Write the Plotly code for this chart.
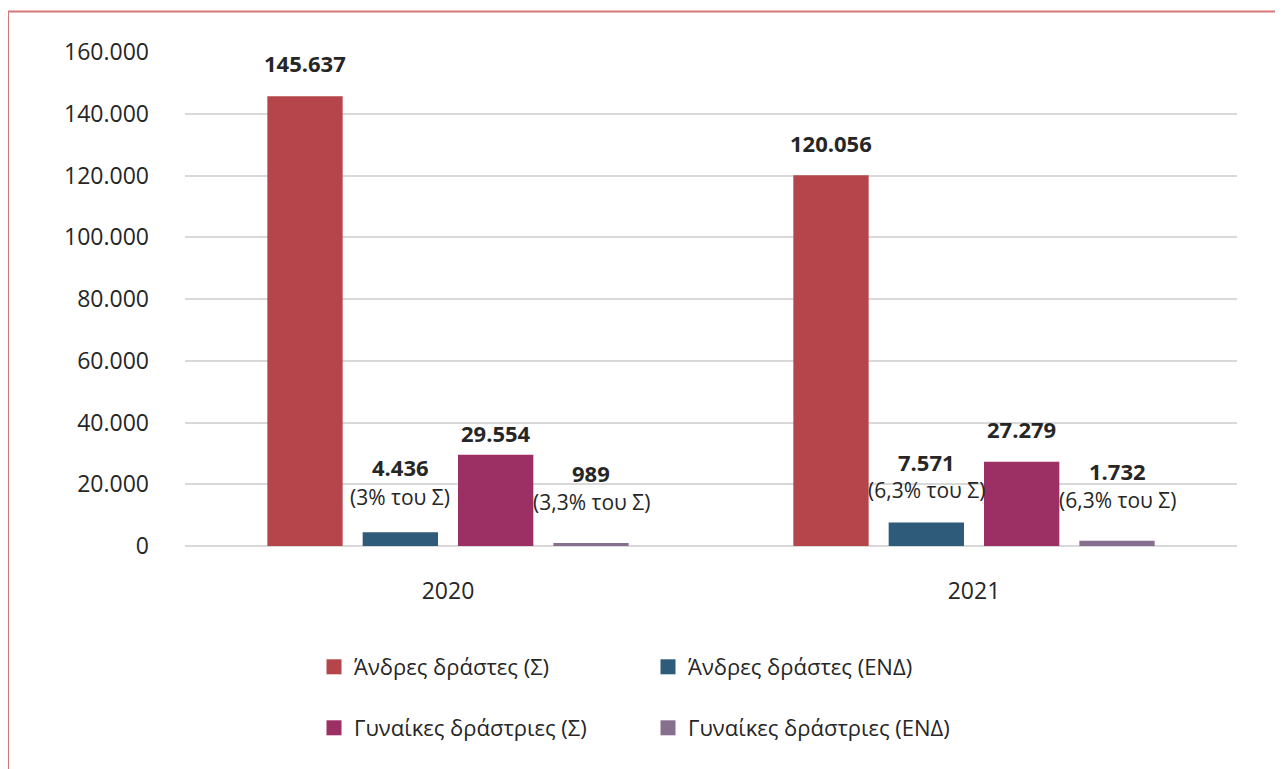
import plotly.graph_objects as go

years = ["2020", "2021"]
series_names = ["Άνδρες δράστες (Σ)", "Άνδρες δράστες (ΕΝΔ)", "Γυναίκες δράστριες (Σ)", "Γυναίκες δράστριες (ΕΝΔ)"]
men_total = [145637, 120056]
men_end = [4436, 7571]
women_total = [29554, 27279]
women_end = [989, 1732]
men_end_pct = ["(3% του Σ)", "(6,3% του Σ)"]
women_end_pct = ["(3,3% του Σ)", "(6,3% του Σ)"]
y_ticks = [0, 20000, 40000, 60000, 80000, 100000, 120000, 140000, 160000]

colors = ["#B5454B", "#2E5B7A", "#9C2F64", "#87708E"]
FONT = "Open Sans"
TXT = "#262626"

all_series = [men_total, men_end, women_total, women_end]
legends = ["legend", "legend", "legend2", "legend2"]

fig = go.Figure()
for name, vals, col in zip(series_names, all_series, colors):
    fig.add_trace(go.Bar(x=years, y=vals, name=name, marker_color=col,
                         marker_line_width=0, showlegend=False, hoverinfo="y"))
# legend entries with larger square swatches
for name, col, lg in zip(series_names, colors, legends):
    fig.add_trace(go.Scatter(x=[None], y=[None], mode="markers", name=name,
                             marker=dict(symbol="square", size=15, color=col),
                             legend=lg, hoverinfo="skip"))

def fmt(v):
    return f"{v:,}".replace(",", ".")

# label layout: offsets of each series in the group (category units) and vertical shifts (px)
offsets = [-0.272, -0.091, 0.091, 0.272]
val_shift = [[33, 32], [65, 61], [22, 33], [70, 70]]
pct_shift = [None, [35, 33], None, [41, 41]]
pct_text = [None, men_end_pct, None, women_end_pct]

for si, vals in enumerate(all_series):
    for ci, v in enumerate(vals):
        fig.add_annotation(x=ci + offsets[si], y=v, xref="x", yref="y",
                           text=f"<b>{fmt(v)}</b>", showarrow=False,
                           yanchor="middle", yshift=val_shift[si][ci],
                           font=dict(family=FONT, size=22, color=TXT))
        if pct_text[si] is not None:
            fig.add_annotation(x=ci + offsets[si], y=v, xref="x", yref="y",
                               text=pct_text[si][ci], showarrow=False,
                               yanchor="middle", yshift=pct_shift[si][ci],
                               font=dict(family=FONT, size=21, color=TXT))

W, H = 1275, 761
L, R, T, B = 177, 46, 44, 223
plot_w = W - L - R
plot_h = H - T - B

# outer border
fig.add_shape(type="rect", xref="paper", yref="paper",
              x0=(0 - L) / plot_w, x1=1.2, y0=-0.6, y1=(T + plot_h - 3.5) / plot_h,
              line=dict(color="#D5787C", width=2), fillcolor="rgba(0,0,0,0)", layer="below")

fig.update_layout(
    width=W, height=H,
    margin=dict(l=L, r=R, t=T, b=B),
    paper_bgcolor="white", plot_bgcolor="white",
    separators=",.",
    barmode="group", bargap=0.275, bargroupgap=0.21,
    font=dict(family=FONT, size=22, color=TXT),
    showlegend=True,
    legend=dict(orientation="h", x=(306 - L) / plot_w, xanchor="left",
                y=-(667 - 8 - T - plot_h) / plot_h, yanchor="middle",
                entrywidth=289, entrywidthmode="pixels", itemwidth=30,
                font=dict(family=FONT, size=22, color=TXT), itemclick=False),
    legend2=dict(orientation="h", x=(306 - L) / plot_w, xanchor="left",
                 y=-(728 - 8 - T - plot_h) / plot_h, yanchor="middle",
                 entrywidth=289, entrywidthmode="pixels", itemwidth=30,
                 font=dict(family=FONT, size=22, color=TXT), itemclick=False),
)
fig.update_yaxes(range=[0, 160000], tickvals=y_ticks,
                 ticktext=[fmt(t) for t in y_ticks],
                 showgrid=True, gridcolor="#D9D9D9", gridwidth=2,
                 zeroline=True, zerolinecolor="#D9D9D9", zerolinewidth=2,
                 showline=False, ticks="", ticklabelstandoff=35,
                 tickfont=dict(family=FONT, size=23, color=TXT))
fig.update_xaxes(showgrid=False, showline=False, ticks="",
                 ticklabelstandoff=29,
                 tickfont=dict(family=FONT, size=23, color=TXT))

fig.write_html("out.html")
